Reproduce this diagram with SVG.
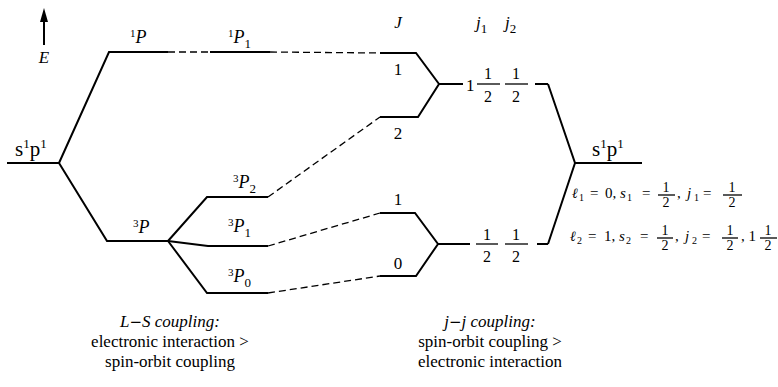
<svg xmlns="http://www.w3.org/2000/svg" width="778" height="387" viewBox="0 0 778 387">
<rect width="778" height="387" fill="#fff"/>

<g id="energy-axis">
<line x1="44" y1="45" x2="44" y2="14" stroke="#000" stroke-width="2"/>
<path d="M40,22 L44,8 L48,22 Z" fill="#000"/>
<text x="44" y="63" font-family="Liberation Serif" font-size="17" font-style="italic" text-anchor="middle">E</text>
</g>

<g id="config-left">
<line x1="7" y1="163" x2="59" y2="163" stroke="#000" stroke-width="2"/>
<text x="15" y="156" font-family="Liberation Serif" font-size="21">s<tspan font-size="13" dy="-8">1</tspan><tspan dy="8">p</tspan><tspan font-size="13" dy="-8">1</tspan></text>
</g>

<g id="level-1P">
<path d="M59,163 L109,52 L168,52" stroke="#000" stroke-width="2" fill="none"/>
<text x="130" y="43" font-family="Liberation Serif" font-size="18"><tspan font-size="11" dy="-6">1</tspan><tspan font-style="italic" dy="6">P</tspan></text>
</g>

<g id="level-3P">
<path d="M59,163 L107,241 L168,241" stroke="#000" stroke-width="2" fill="none"/>
<text x="133" y="233" font-family="Liberation Serif" font-size="18"><tspan font-size="11" dy="-6">3</tspan><tspan font-style="italic" dy="6">P</tspan></text>
</g>

<g id="level-1P1">
<line x1="210" y1="52" x2="270" y2="52" stroke="#000" stroke-width="2"/>
<text x="228" y="43" font-family="Liberation Serif" font-size="18"><tspan font-size="11" dy="-6">1</tspan><tspan font-style="italic" dy="6">P</tspan><tspan font-size="13" dy="5">1</tspan></text>
</g>

<g id="level-3P2">
<path d="M168,241 L207,197 L268,197" stroke="#000" stroke-width="2" fill="none"/>
<text x="233" y="188" font-family="Liberation Serif" font-size="18"><tspan font-size="11" dy="-6">3</tspan><tspan font-style="italic" dy="6">P</tspan><tspan font-size="13" dy="5">2</tspan></text>
</g>
<g id="level-3P1">
<path d="M168,241 L208,246 L268,246" stroke="#000" stroke-width="2" fill="none"/>
<text x="228" y="232" font-family="Liberation Serif" font-size="18"><tspan font-size="11" dy="-6">3</tspan><tspan font-style="italic" dy="6">P</tspan><tspan font-size="13" dy="5">1</tspan></text>
</g>
<g id="level-3P0">
<path d="M168,241 L207,293 L268,293" stroke="#000" stroke-width="2" fill="none"/>
<text x="228" y="282" font-family="Liberation Serif" font-size="18"><tspan font-size="11" dy="-6">3</tspan><tspan font-style="italic" dy="6">P</tspan><tspan font-size="13" dy="5">0</tspan></text>
</g>

<g id="column-headers">
<text x="398" y="28" font-family="Liberation Serif" font-size="17" font-style="italic" text-anchor="middle">J</text>
<text x="476" y="28" font-family="Liberation Serif" font-size="17"><tspan font-style="italic">j</tspan><tspan font-size="13" dy="5">1</tspan></text>
<text x="505" y="28" font-family="Liberation Serif" font-size="17"><tspan font-style="italic">j</tspan><tspan font-size="13" dy="5">2</tspan></text>
</g>

<g id="jj-upper">
<path d="M380,53 L416,53 L439,84 L418,117 L380,117" stroke="#000" stroke-width="2" fill="none"/>
<line x1="439" y1="84" x2="463" y2="84" stroke="#000" stroke-width="2"/>
<text x="398" y="75" font-family="Liberation Serif" font-size="17" text-anchor="middle">1</text>
<text x="398" y="139" font-family="Liberation Serif" font-size="17" text-anchor="middle">2</text>
<text x="466" y="91" font-family="Liberation Serif" font-size="17">1</text>
<line x1="477" y1="84" x2="500" y2="84" stroke="#000" stroke-width="1.3"/>
<text x="488" y="79" font-family="Liberation Serif" font-size="16" text-anchor="middle">1</text>
<text x="488" y="102" font-family="Liberation Serif" font-size="16" text-anchor="middle">2</text>
<line x1="505" y1="84" x2="528" y2="84" stroke="#000" stroke-width="1.3"/>
<text x="516" y="79" font-family="Liberation Serif" font-size="16" text-anchor="middle">1</text>
<text x="516" y="102" font-family="Liberation Serif" font-size="16" text-anchor="middle">2</text>
<line x1="535" y1="84" x2="548" y2="84" stroke="#000" stroke-width="2"/>
</g>

<g id="jj-lower">
<path d="M380,213 L415,213 L438,244 L416,276 L380,276" stroke="#000" stroke-width="2" fill="none"/>
<line x1="438" y1="244" x2="470" y2="244" stroke="#000" stroke-width="2"/>
<text x="398" y="205" font-family="Liberation Serif" font-size="17" text-anchor="middle">1</text>
<text x="398" y="269" font-family="Liberation Serif" font-size="17" text-anchor="middle">0</text>
<line x1="476" y1="244" x2="498" y2="244" stroke="#000" stroke-width="1.3"/>
<text x="487" y="240" font-family="Liberation Serif" font-size="16" text-anchor="middle">1</text>
<text x="487" y="262" font-family="Liberation Serif" font-size="16" text-anchor="middle">2</text>
<line x1="505" y1="244" x2="528" y2="244" stroke="#000" stroke-width="1.3"/>
<text x="516" y="240" font-family="Liberation Serif" font-size="16" text-anchor="middle">1</text>
<text x="516" y="262" font-family="Liberation Serif" font-size="16" text-anchor="middle">2</text>
<line x1="537" y1="244" x2="548" y2="244" stroke="#000" stroke-width="2"/>
</g>

<g id="config-right">
<path d="M548,84 L575,163 L548,244" stroke="#000" stroke-width="2" fill="none"/>
<line x1="575" y1="163" x2="642" y2="163" stroke="#000" stroke-width="2"/>
<text x="592" y="156" font-family="Liberation Serif" font-size="21">s<tspan font-size="13" dy="-8">1</tspan><tspan dy="8">p</tspan><tspan font-size="13" dy="-8">1</tspan></text>
</g>

<g id="quantum-numbers">
<text x="572" y="198" font-family="DejaVu Serif" font-size="14" font-style="italic">ℓ</text>
<text y="198" font-family="Liberation Serif" font-size="15"><tspan x="579" dy="3" font-size="10">1</tspan><tspan x="590" dy="-3">=</tspan><tspan x="605">0,</tspan><tspan x="620" font-style="italic">s</tspan><tspan x="627" dy="3" font-size="10">1</tspan><tspan x="642" dy="-3">=</tspan><tspan x="677">,</tspan><tspan x="687" font-style="italic">j</tspan><tspan x="694" dy="3" font-size="10">1</tspan><tspan x="703" dy="-3">=</tspan></text>
<line x1="658" y1="195" x2="675" y2="195" stroke="#000" stroke-width="1.3"/>
<text x="666" y="192" font-family="Liberation Serif" font-size="14" text-anchor="middle">1</text>
<text x="666" y="207" font-family="Liberation Serif" font-size="14" text-anchor="middle">2</text>
<line x1="723" y1="195" x2="742" y2="195" stroke="#000" stroke-width="1.3"/>
<text x="732" y="192" font-family="Liberation Serif" font-size="14" text-anchor="middle">1</text>
<text x="732" y="207" font-family="Liberation Serif" font-size="14" text-anchor="middle">2</text>

<text x="570" y="241" font-family="DejaVu Serif" font-size="14" font-style="italic">ℓ</text>
<text y="241" font-family="Liberation Serif" font-size="15"><tspan x="577" dy="3" font-size="10">2</tspan><tspan x="588" dy="-3">=</tspan><tspan x="604">1,</tspan><tspan x="619" font-style="italic">s</tspan><tspan x="626" dy="3" font-size="10">2</tspan><tspan x="640" dy="-3">=</tspan><tspan x="675">,</tspan><tspan x="685" font-style="italic">j</tspan><tspan x="692" dy="3" font-size="10">2</tspan><tspan x="702" dy="-3">=</tspan><tspan x="741">, 1</tspan></text>
<line x1="657" y1="238" x2="673" y2="238" stroke="#000" stroke-width="1.3"/>
<text x="665" y="235" font-family="Liberation Serif" font-size="14" text-anchor="middle">1</text>
<text x="665" y="250" font-family="Liberation Serif" font-size="14" text-anchor="middle">2</text>
<line x1="722" y1="238" x2="738" y2="238" stroke="#000" stroke-width="1.3"/>
<text x="730" y="235" font-family="Liberation Serif" font-size="14" text-anchor="middle">1</text>
<text x="730" y="250" font-family="Liberation Serif" font-size="14" text-anchor="middle">2</text>
<line x1="760" y1="238" x2="777" y2="238" stroke="#000" stroke-width="1.3"/>
<text x="768" y="235" font-family="Liberation Serif" font-size="14" text-anchor="middle">1</text>
<text x="768" y="250" font-family="Liberation Serif" font-size="14" text-anchor="middle">2</text>
</g>

<g id="connectors" stroke="#000" stroke-width="1.3" fill="none" stroke-dasharray="7,4">
<line x1="168" y1="52" x2="210" y2="52"/>
<line x1="270" y1="52" x2="380" y2="53"/>
<line x1="268" y1="197" x2="380" y2="117"/>
<line x1="268" y1="246" x2="380" y2="213"/>
<line x1="268" y1="293" x2="380" y2="276"/>
</g>

<g id="caption-left">
<text x="170" y="327" font-family="Liberation Serif" font-size="17" font-style="italic" text-anchor="middle">L<tspan font-family="DejaVu Serif" font-style="normal" font-size="15">−</tspan>S coupling:</text>
<text x="170" y="347" font-family="Liberation Serif" font-size="17" text-anchor="middle">electronic interaction &gt;</text>
<text x="170" y="367" font-family="Liberation Serif" font-size="17" text-anchor="middle">spin-orbit coupling</text>
</g>
<g id="caption-right">
<text x="490" y="327" font-family="Liberation Serif" font-size="17" font-style="italic" text-anchor="middle">j<tspan font-family="DejaVu Serif" font-style="normal" font-size="15">−</tspan>j coupling:</text>
<text x="490" y="347" font-family="Liberation Serif" font-size="17" text-anchor="middle">spin-orbit coupling &gt;</text>
<text x="490" y="367" font-family="Liberation Serif" font-size="17" text-anchor="middle">electronic interaction</text>
</g>
</svg>
